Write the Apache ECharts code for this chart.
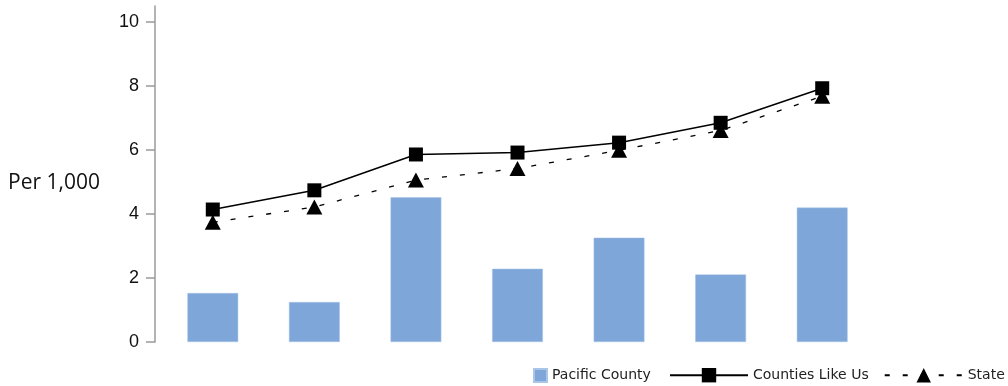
<!DOCTYPE html>
<html>
<head>
<meta charset="utf-8">
<script src="https://cdn.jsdelivr.net/npm/echarts@6/dist/echarts.min.js"></script>
<style>
  html, body { margin: 0; padding: 0; background: #fff; }
  #chart { width: 1008px; height: 386px; }
</style>
</head>
<body>
<div id="chart"></div>
<script>
// periods (no labels shown on the x axis)
const categories = ['1', '2', '3', '4', '5', '6', '7'];
const pacificCounty = [1.53, 1.25, 4.52, 2.29, 3.26, 2.11, 4.2];
const countiesLikeUs = [4.14, 4.74, 5.86, 5.92, 6.23, 6.85, 7.93];
const stateRate = [3.74, 4.22, 5.06, 5.42, 5.99, 6.61, 7.68];
const yTicks = [0, 2, 4, 6, 8, 10];

const chart = echarts.init(document.getElementById('chart'));

const legendText = { fontFamily: 'DejaVu Sans', fontSize: 14, color: '#222' };

const option = {
  backgroundColor: '#fff',
  animation: false,
  title: {
    text: 'Per 1,000',
    left: 8, top: 173, padding: 0,
    textStyle: { fontFamily: 'Open Sans', fontSize: 21, fontWeight: 'normal', color: '#111' }
  },
  grid: { left: 162, right: 135, top: 6, bottom: 44, containLabel: false, outerBoundsMode: 'none' },
  legend: [
    {
      data: [{ name: 'Pacific County', icon: 'rect' }],
      left: 533, top: 368, padding: 0,
      itemWidth: 13, itemHeight: 13,
      itemGap: 10,
      textStyle: legendText
    },
    {
      data: ['Counties Like Us', 'State'],
      left: 669, top: 368, padding: 0, width: 340,
      itemWidth: 78, itemHeight: 18,
      itemGap: 15,
      textStyle: legendText
    }
  ],
  xAxis: {
    type: 'category',
    data: categories,
    axisLine: { show: false },
    axisTick: { show: false },
    axisLabel: { show: false }
  },
  yAxis: {
    type: 'value',
    min: 0,
    max: 10.5,
    offset: 7,
    splitLine: { show: false },
    axisLine: { show: true, lineStyle: { color: '#9a9a9a', width: 1.5 } },
    axisTick: { show: true, length: 9, customValues: yTicks, lineStyle: { color: '#9a9a9a', width: 1.5 } },
    axisLabel: {
      customValues: yTicks,
      margin: 16,
      fontFamily: 'Liberation Sans',
      fontSize: 18,
      color: '#111'
    }
  },
  series: [
    {
      name: 'Pacific County',
      type: 'bar',
      data: pacificCounty,
      barWidth: '50%',
      itemStyle: { color: '#7ea6d8', borderColor: '#a9c5e8', borderWidth: 0.5 }
    },
    {
      name: 'Counties Like Us',
      type: 'line',
      data: countiesLikeUs,
      symbol: 'rect',
      symbolSize: 14,
      z: 4,
      itemStyle: { color: '#000' },
      lineStyle: { color: '#000', width: 1.5 }
    },
    {
      name: 'State',
      type: 'line',
      data: stateRate,
      symbol: 'triangle',
      symbolSize: [16, 15],
      z: 3,
      itemStyle: { color: '#000' },
      lineStyle: { color: '#000', width: 1.3, type: [5, 13] }
    }
  ]
};

chart.setOption(option);
</script>
</body>
</html>
